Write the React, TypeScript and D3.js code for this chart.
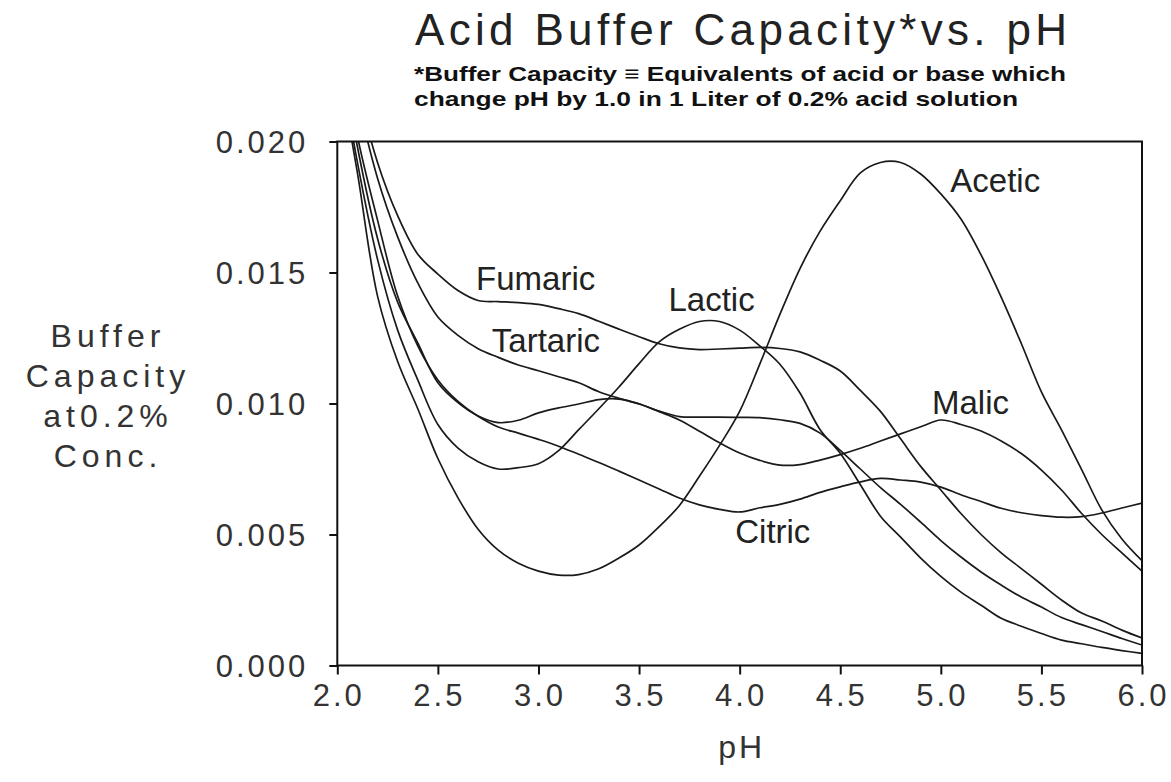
import React, { useEffect, useRef } from 'react';
import * as d3 from 'd3';

// pH sample points (x values shared by every curve)
const phValues = [
  2.0, 2.1, 2.2, 2.3, 2.4, 2.5, 2.6, 2.7, 2.8, 2.9,
  3.0, 3.1, 3.2, 3.3, 3.4, 3.5, 3.6, 3.7, 3.8, 3.9,
  4.0, 4.1, 4.2, 4.3, 4.4, 4.5, 4.6, 4.7, 4.8, 4.9,
  5.0, 5.1, 5.2, 5.3, 5.4, 5.5, 5.6, 5.7, 5.8, 5.9, 6.0,
];

// buffer capacity (equivalents / L)
const acetic = [
  0.0232, 0.0188, 0.0141, 0.0116, 0.0098, 0.0079, 0.0064, 0.0052, 0.0044, 0.0039,
  0.0036, 0.00345, 0.00347, 0.00369, 0.0041, 0.0046, 0.0053, 0.0061, 0.00722, 0.0084,
  0.0097, 0.0115, 0.0134, 0.01515, 0.01658, 0.01774, 0.0188, 0.0192, 0.0192, 0.01876,
  0.018, 0.01704, 0.01567, 0.01406, 0.01229, 0.01044, 0.00899, 0.00748, 0.00594, 0.00483, 0.004,
];
const lactic = [
  0.0237, 0.0192, 0.0155, 0.0128, 0.0109, 0.0092, 0.0083, 0.00778, 0.0075, 0.00755,
  0.0077, 0.0082, 0.009, 0.0098, 0.01063, 0.01152, 0.01235, 0.01283, 0.01313, 0.01313,
  0.0128, 0.0122, 0.0115, 0.0104, 0.009, 0.0081, 0.0069, 0.0057, 0.0049, 0.0041,
  0.0034, 0.0028, 0.0023, 0.0018, 0.0015, 0.00122, 0.00097, 0.00083, 0.00069, 0.00057, 0.00046,
];
const fumaric = [
  0.0261, 0.0221, 0.0192, 0.01717, 0.0157, 0.01494, 0.01431, 0.01393, 0.01389, 0.01385,
  0.01378, 0.01362, 0.01343, 0.01314, 0.01284, 0.01255, 0.01228, 0.01212, 0.01206, 0.01208,
  0.01211, 0.01214, 0.0121, 0.01197, 0.01165, 0.01124, 0.0105, 0.0097, 0.00865, 0.0076,
  0.0067, 0.0058, 0.005, 0.0043, 0.0037, 0.0031, 0.0025, 0.002, 0.0017, 0.00135, 0.00105,
];
const tartaric = [
  0.0257, 0.0217, 0.0186, 0.01636, 0.0146, 0.0133, 0.0126, 0.01209, 0.01176, 0.01147,
  0.01125, 0.01102, 0.01079, 0.01045, 0.0102, 0.00998, 0.00971, 0.0095, 0.00948, 0.00948,
  0.00947, 0.00946, 0.00938, 0.00924, 0.00887, 0.00821, 0.0075, 0.00679, 0.00615, 0.00547,
  0.00477, 0.00414, 0.00357, 0.00307, 0.00261, 0.00223, 0.00183, 0.00156, 0.0013, 0.00103, 0.00078,
];
const malic = [
  0.0243, 0.0198, 0.0163, 0.01387, 0.01231, 0.01079, 0.01003, 0.00952, 0.00927, 0.00936,
  0.00964, 0.00983, 0.00998, 0.01015, 0.01017, 0.00999, 0.00969, 0.00937, 0.00894, 0.0085,
  0.00811, 0.00783, 0.00765, 0.00767, 0.00784, 0.00805, 0.00829, 0.00857, 0.00884, 0.00911,
  0.00937, 0.0092, 0.00895, 0.00857, 0.00809, 0.00746, 0.0067, 0.0058, 0.005, 0.0043, 0.0036,
];
const citric = [
  0.0246, 0.0202, 0.017, 0.0141, 0.0122, 0.0109, 0.01008, 0.00951, 0.0091, 0.00887,
  0.00863, 0.00837, 0.00806, 0.00775, 0.00742, 0.00708, 0.00674, 0.00639, 0.00613, 0.00596,
  0.00586, 0.00602, 0.00615, 0.00635, 0.00661, 0.00682, 0.00701, 0.00714, 0.00708, 0.007,
  0.00681, 0.00652, 0.00626, 0.006, 0.00583, 0.00572, 0.00566, 0.00568, 0.00582, 0.00601, 0.0062,
];

const seriesNames = ['Acetic', 'Lactic', 'Fumaric', 'Tartaric', 'Malic', 'Citric'];
const seriesValues = [acetic, lactic, fumaric, tartaric, malic, citric];

const xTicks = [2.0, 2.5, 3.0, 3.5, 4.0, 4.5, 5.0, 5.5, 6.0];
const yTicks = [0, 0.005, 0.01, 0.015, 0.02];

const yTitleLines = ['Buffer', 'Capacity', 'at0.2%', 'Conc.'];
const subtitleLines = [
  '*Buffer Capacity \u2261 Equivalents of acid or base which',
  'change pH by 1.0 in 1 Liter of 0.2% acid solution',
];

const FONT = '"Liberation Sans", Arial, sans-serif';

const App = () => {
  const chartRef = useRef<SVGSVGElement>(null);

  useEffect(() => {
    const width = 1171;
    const height = 782;
    const margin = { top: 141.5, right: 29, bottom: 116.5, left: 337.3 };
    const innerWidth = width - margin.left - margin.right;
    const innerHeight = height - margin.top - margin.bottom;

    const svg = d3.select(chartRef.current)
      .attr('width', width)
      .attr('height', height);
    svg.selectAll('*').remove();

    svg.append('rect').attr('width', width).attr('height', height).attr('fill', '#fff');

    const x = d3.scaleLinear().domain([2, 6]).range([0, innerWidth]);
    const y = d3.scaleLinear().domain([0, 0.02]).range([innerHeight, 0]);

    const g = svg.append('g').attr('transform', `translate(${margin.left},${margin.top})`);

    svg.append('defs').append('clipPath').attr('id', 'plot-clip')
      .append('rect').attr('width', innerWidth).attr('height', innerHeight);

    // curves
    const line = d3.line<number>()
      .x((_, i) => x(phValues[i]))
      .y(d => y(d))
      .curve(d3.curveCatmullRom.alpha(0.5));

    g.append('g').attr('clip-path', 'url(#plot-clip)')
      .selectAll('path')
      .data(seriesValues)
      .enter().append('path')
      .attr('d', d => line(d))
      .attr('fill', 'none')
      .attr('stroke', '#1a1a1a')
      .attr('stroke-width', 1.7);

    // frame
    g.append('rect')
      .attr('width', innerWidth)
      .attr('height', innerHeight)
      .attr('fill', 'none')
      .attr('stroke', '#111')
      .attr('stroke-width', 2);

    // axes
    const xAxis = g.append('g')
      .attr('transform', `translate(0,${innerHeight})`)
      .call(d3.axisBottom(x).tickValues(xTicks).tickSize(9).tickFormat(d3.format('.1f')));
    xAxis.select('.domain').remove();
    xAxis.selectAll('.tick line').attr('stroke', '#111').attr('stroke-width', 2);
    xAxis.selectAll('.tick text')
      .attr('y', 40).attr('dy', 0)
      .attr('dx', 1)
      .attr('fill', '#333')
      .style('font-family', FONT)
      .style('font-size', '31px')
      .style('letter-spacing', '3px');

    const yAxis = g.append('g')
      .call(d3.axisLeft(y).tickValues(yTicks).tickSize(8).tickFormat(d3.format('.3f')));
    yAxis.select('.domain').remove();
    yAxis.selectAll('.tick line').attr('stroke', '#111').attr('stroke-width', 2);
    yAxis.selectAll('.tick text')
      .attr('x', -29).attr('dy', '0.36em')
      .attr('fill', '#333')
      .style('font-family', FONT)
      .style('font-size', '31px')
      .style('letter-spacing', '3px');

    // curve labels, anchored in data units
    const labelAt: Record<string, [number, number]> = {
      Fumaric: [2.69, 0.01433],
      Tartaric: [2.768, 0.01198],
      Lactic: [3.646, 0.01354],
      Acetic: [5.047, 0.01808],
      Malic: [4.956, 0.0096],
      Citric: [3.978, 0.00468],
    };
    g.selectAll('.series-label')
      .data(seriesNames)
      .enter().append('text')
      .attr('class', 'series-label')
      .attr('x', d => x(labelAt[d][0]))
      .attr('y', d => y(labelAt[d][1]))
      .attr('fill', '#222')
      .style('font-family', FONT)
      .style('font-size', '33px')
      .text(d => d);

    // titles
    svg.append('text')
      .attr('x', 415).attr('y', 45)
      .attr('textLength', 652).attr('lengthAdjust', 'spacing')
      .attr('fill', '#222')
      .style('font-family', FONT)
      .style('font-size', '44px')
      .text('Acid Buffer Capacity*vs. pH');

    svg.selectAll('.subtitle')
      .data(subtitleLines)
      .enter().append('text')
      .attr('class', 'subtitle')
      .attr('x', 414)
      .attr('y', (_, i) => 81 + i * 25)
      .attr('textLength', (_, i) => (i === 0 ? 652 : 604))
      .attr('lengthAdjust', 'spacingAndGlyphs')
      .attr('fill', '#111')
      .style('font-family', FONT)
      .style('font-size', '21px')
      .style('font-weight', 'bold')
      .text(d => d);

    svg.selectAll('.y-title')
      .data(yTitleLines)
      .enter().append('text')
      .attr('class', 'y-title')
      .attr('x', 108)
      .attr('y', (_, i) => 347 + i * 40)
      .attr('text-anchor', 'middle')
      .attr('fill', '#333')
      .style('font-family', FONT)
      .style('font-size', '32px')
      .style('letter-spacing', '5px')
      .text(d => d);

    svg.append('text')
      .attr('x', margin.left + x(4) + 2).attr('y', 758)
      .attr('text-anchor', 'middle')
      .attr('fill', '#333')
      .style('font-family', FONT)
      .style('font-size', '32px')
      .style('letter-spacing', '3px')
      .text('pH');
  }, []);

  return (
    <div style={{ position: 'absolute', left: 0, top: 0, width: 1171, height: 782 }}>
      <svg ref={chartRef}></svg>
    </div>
  );
};

export default App;
